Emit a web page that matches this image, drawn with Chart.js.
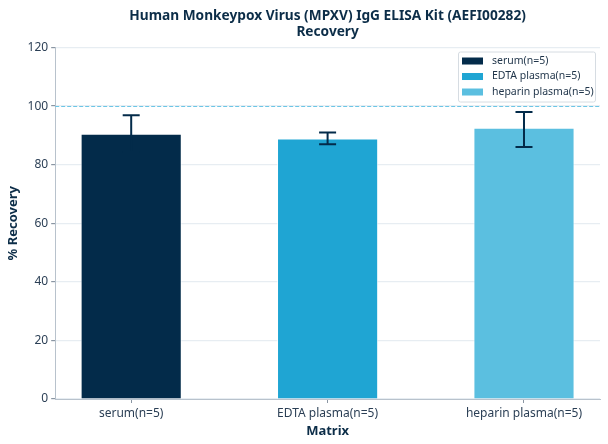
<!DOCTYPE html>
<html>
<head>
<meta charset="utf-8">
<script src="https://cdn.jsdelivr.net/npm/chart.js@4.4.0/dist/chart.umd.min.js"></script>
<style>
  html, body { margin: 0; padding: 0; background: #fff; }
  #wrap { width: 608px; height: 444px; }
</style>
</head>
<body>
<div id="wrap"><canvas id="recovery"></canvas></div>
<script>
// data
const categories = ['serum(n=5)', 'EDTA plasma(n=5)', 'heparin plasma(n=5)'];
const recovery = [90.6, 88.9, 92.6];
const errLow = [84.3, 87.0, 86.0];
const errHigh = [96.9, 91.0, 98.0];
const yTicks = [0, 20, 40, 60, 80, 100, 120];
const refLine = 100;

const barColors = ['#032b4a', '#1fa5d3', '#5bbfe0'];
const ink = '#0c2d48';
const font = '"Noto Sans", "DejaVu Sans", sans-serif';

// error bars, dashed 100% line, legend box
const extras = {
  id: 'extras',
  beforeDatasetsDraw(chart) {
    const {ctx, chartArea, scales} = chart;
    const y = Math.round(scales.y.getPixelForValue(refLine)) + 0.5;
    ctx.save();
    ctx.strokeStyle = '#6cc6e6';
    ctx.lineWidth = 1;
    ctx.setLineDash([4, 2]);
    ctx.beginPath();
    ctx.moveTo(chartArea.left, y);
    ctx.lineTo(chartArea.right, y);
    ctx.stroke();
    ctx.restore();
  },
  afterDatasetsDraw(chart) {
    const {ctx, scales} = chart;
    ctx.save();
    ctx.strokeStyle = '#032b4a';
    ctx.lineWidth = 2;
    categories.forEach((c, i) => {
      const x = scales.x.getPixelForValue(i);
      const lo = scales.y.getPixelForValue(errLow[i]);
      const hi = scales.y.getPixelForValue(errHigh[i]);
      ctx.beginPath();
      ctx.moveTo(x, lo); ctx.lineTo(x, hi);
      ctx.moveTo(x - 8.5, lo); ctx.lineTo(x + 8.5, lo);
      ctx.moveTo(x - 8.5, hi); ctx.lineTo(x + 8.5, hi);
      ctx.stroke();
    });
    ctx.restore();
  },
  afterDraw(chart) {
    const {ctx, chartArea} = chart;
    const w = 137, h = 50;
    const bx = chartArea.right - w - 5, by = chartArea.top + 4;
    ctx.save();
    ctx.fillStyle = 'rgba(255,255,255,0.85)';
    ctx.strokeStyle = '#d6dce2';
    ctx.lineWidth = 1;
    ctx.beginPath();
    ctx.roundRect(bx + 0.5, by + 0.5, w, h, 2);
    ctx.fill();
    ctx.stroke();
    ctx.font = '10.5px ' + font;
    ctx.textBaseline = 'middle';
    categories.forEach((c, i) => {
      const ry = by + 9.5 + i * 15.5;
      ctx.fillStyle = barColors[i];
      ctx.fillRect(bx + 4, ry - 3.5, 21, 7);
      ctx.fillStyle = '#1f3449';
      ctx.fillText(c, bx + 34, ry);
    });
    ctx.restore();
  }
};

new Chart('recovery', {
  type: 'bar',
  data: {
    datasets: [{
      data: categories.map((c, i) => ({x: i, y: recovery[i]})),
      backgroundColor: barColors,
      borderColor: 'rgba(255,255,255,0.7)',
      borderWidth: 1,
      categoryPercentage: 1,
      barPercentage: 0.515
    }]
  },
  options: {
    responsive: true,
    maintainAspectRatio: false,
    animation: false,
    layout: {padding: {top: 6, right: 8, left: 1, bottom: 1}},
    plugins: {
      legend: {display: false},
      tooltip: {enabled: false},
      title: {
        display: true,
        fullSize: false,
        text: ['Human Monkeypox Virus (MPXV) IgG ELISA Kit (AEFI00282)', 'Recovery'],
        color: ink,
        font: {family: font, size: 13.7, weight: 'bold', lineHeight: 1.15},
        padding: {top: 2, bottom: 8}
      }
    },
    scales: {
      x: {
        type: 'linear',
        offset: false,
        min: -0.387,
        max: 2.387,
        afterBuildTicks(axis) {
          axis.ticks = categories.map((c, i) => ({value: i}));
        },
        ticks: {
          callback: (v) => categories[v],
          color: '#2b3f55',
          font: {family: font, size: 12},
          padding: 3
        },
        grid: {offset: false, drawOnChartArea: false, tickLength: 4, tickColor: '#8a96a3'},
        border: {color: '#b8c2cc'},
        title: {
          display: true, text: 'Matrix', color: ink,
          font: {family: font, size: 13, weight: 'bold'},
          padding: {top: 0}
        }
      },
      y: {
        min: 0,
        max: 120,
        afterBuildTicks(axis) {
          axis.ticks = yTicks.map(v => ({value: v}));
        },
        ticks: {
          color: '#2b3f55',
          font: {family: font, size: 12},
          padding: 3
        },
        grid: {color: '#e7edf2', lineWidth: 1.2, tickLength: 4, tickColor: '#8a96a3'},
        border: {color: '#b8c2cc'},
        title: {
          display: true, text: '% Recovery', color: ink,
          font: {family: font, size: 13, weight: 'bold'},
          padding: {bottom: 4}
        }
      }
    }
  },
  plugins: [extras]
});
</script>
</body>
</html>
